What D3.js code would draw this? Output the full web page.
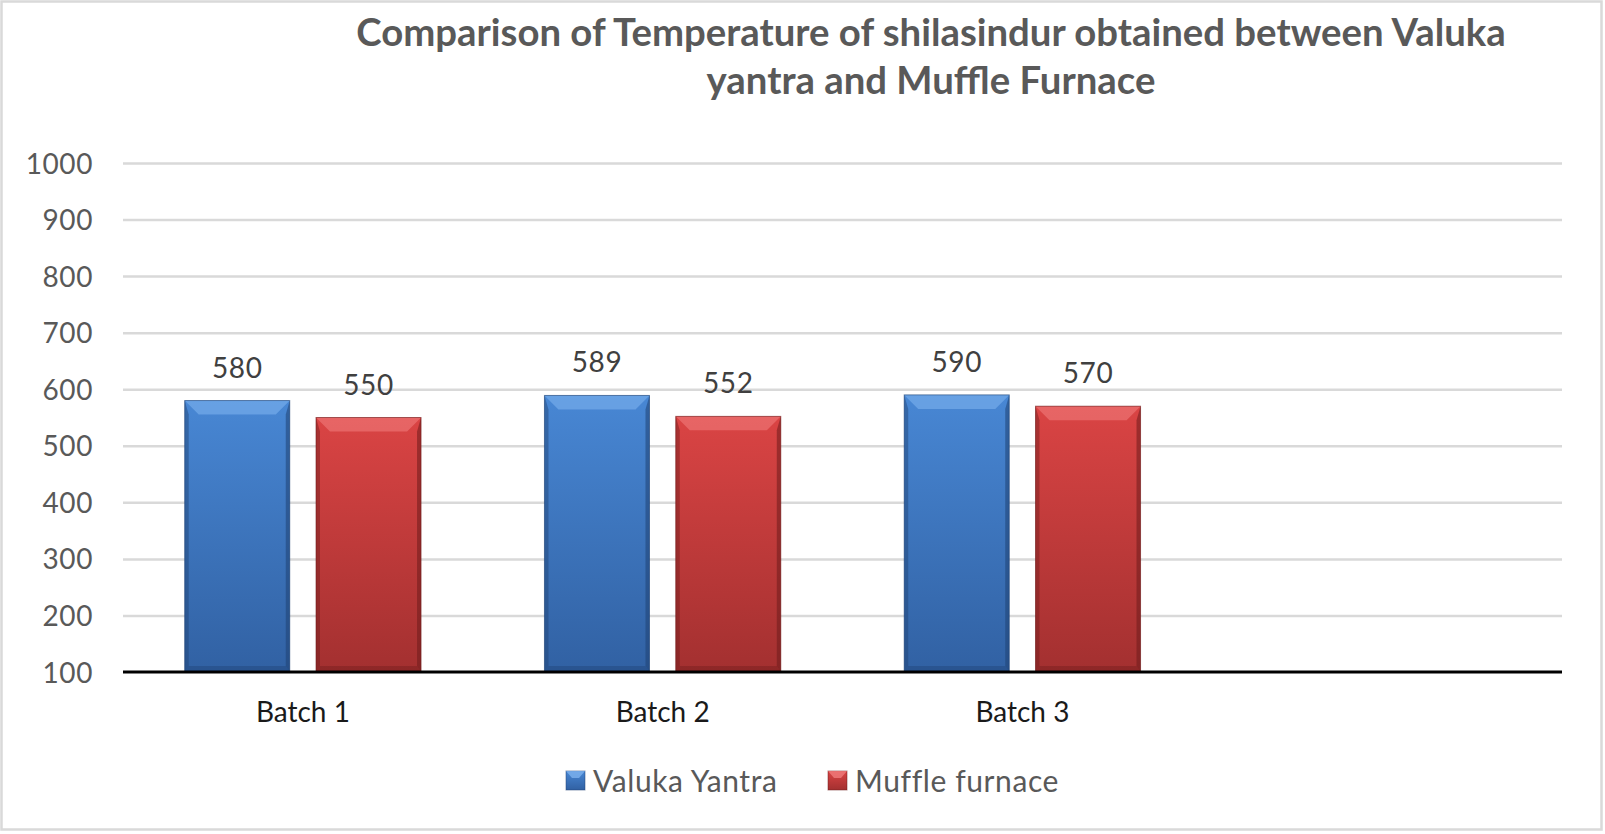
<!DOCTYPE html>
<html>
<head>
<meta charset="utf-8">
<script src="https://cdn.jsdelivr.net/npm/d3@7"></script>
<style>
  html, body { margin: 0; padding: 0; background: #fff; }
  svg { display: block; }
  text { font-family: Lato, "Open Sans", sans-serif; }
</style>
</head>
<body>
<svg id="chart" width="1605" height="834"></svg>
<script>
// chart data (last category is the empty slot left in the original sheet)
const categories = ["Batch 1", "Batch 2", "Batch 3", ""];
const seriesNames = ["Valuka Yantra", "Muffle furnace"];
const valukaYantra = [580, 589, 590, null];
const muffleFurnace = [550, 552, 570, null];
const yTicks = [100, 200, 300, 400, 500, 600, 700, 800, 900, 1000];
const titleLines = [
  "Comparison of Temperature of shilasindur obtained between Valuka",
  "yantra and Muffle Furnace"
];

const palette = {
  "Valuka Yantra": { top: "#4887d4", bottom: "#3161a3", light: "#7db2ee", dark: "#1f4273" },
  "Muffle furnace": { top: "#da4444", bottom: "#a33030", light: "#f07c7c", dark: "#6e1c1c" }
};

const svg = d3.select("#chart");
const W = 1605, H = 834;
const margin = { left: 123, right: 43, top: 163, bottom: 162 };
const plotBottom = H - margin.bottom;

// outer chart border
svg.append("rect")
  .attr("x", 1.5).attr("y", 1.5)
  .attr("width", 1600).attr("height", 828)
  .attr("fill", "#fff")
  .attr("stroke", "#d9d9d9")
  .attr("stroke-width", 2.5);

const x0 = d3.scaleBand()
  .domain(categories)
  .range([margin.left, W - margin.right]);

const x1 = d3.scaleBand()
  .domain(seriesNames)
  .range([0, x0.bandwidth()])
  .paddingInner(0.2)
  .paddingOuter(0.47);

const y = d3.scaleLinear()
  .domain([100, 1000])
  .range([plotBottom, margin.top]);

// gridlines
svg.append("g")
  .attr("class", "grid")
  .attr("transform", `translate(${margin.left},0)`)
  .call(d3.axisLeft(y).tickValues(yTicks.slice(1)).tickSize(-(W - margin.left - margin.right)).tickFormat(""))
  .call(g => g.select(".domain").remove())
  .call(g => g.selectAll("line").attr("stroke", "#d9d9d9").attr("stroke-width", 2.5));

// y labels
svg.append("g")
  .attr("transform", `translate(${margin.left},0)`)
  .call(d3.axisLeft(y).tickValues(yTicks).tickFormat(d3.format("d")).tickSize(0).tickPadding(30))
  .call(g => g.select(".domain").remove())
  .call(g => g.selectAll("text")
    .attr("fill", "#595959")
    .style("font-size", "28px")
    .style("letter-spacing", "0.6px")
    .attr("dy", "0.36em"));

// gradients
const defs = svg.append("defs");
seriesNames.forEach((s, i) => {
  const gr = defs.append("linearGradient")
    .attr("id", "grad" + i)
    .attr("x1", 0).attr("y1", 0).attr("x2", 0).attr("y2", 1);
  gr.append("stop").attr("offset", "0%").attr("stop-color", palette[s].top);
  gr.append("stop").attr("offset", "100%").attr("stop-color", palette[s].bottom);
});

const rows = [];
categories.forEach((c, i) => {
  [valukaYantra, muffleFurnace].forEach((arr, j) => {
    if (arr[i] != null) rows.push({ cat: c, series: seriesNames[j], idx: j, value: arr[i] });
  });
});

const bars = svg.append("g").selectAll("g.bar")
  .data(rows)
  .join("g")
  .attr("class", "bar");

const bev = 14, side = 4, foot = 6;

bars.each(function (d) {
  const g = d3.select(this);
  const bx = x0(d.cat) + x1(d.series);
  const bw = x1.bandwidth();
  const by = y(d.value);
  const bh = plotBottom - by;
  const col = palette[d.series];

  g.append("rect")
    .attr("x", bx).attr("y", by)
    .attr("width", bw).attr("height", bh)
    .attr("fill", `url(#grad${d.idx})`);

  // bevel: top highlight
  g.append("path")
    .attr("d", `M${bx},${by}L${bx + bw},${by}L${bx + bw - bev},${by + bev}L${bx + bev},${by + bev}Z`)
    .attr("fill", col.light).attr("opacity", 0.6);
  // side shading
  g.append("path")
    .attr("d", `M${bx},${by}L${bx + side},${by + bev}L${bx + side},${by + bh - foot}L${bx},${by + bh}Z`)
    .attr("fill", col.dark).attr("opacity", 0.45);
  g.append("path")
    .attr("d", `M${bx + bw},${by}L${bx + bw - side},${by + bev}L${bx + bw - side},${by + bh - foot}L${bx + bw},${by + bh}Z`)
    .attr("fill", col.dark).attr("opacity", 0.55);
  // bottom shading
  g.append("path")
    .attr("d", `M${bx},${by + bh}L${bx + side},${by + bh - foot}L${bx + bw - side},${by + bh - foot}L${bx + bw},${by + bh}Z`)
    .attr("fill", col.dark).attr("opacity", 0.4);
  g.append("rect")
    .attr("x", bx).attr("y", by)
    .attr("width", bw).attr("height", bh)
    .attr("fill", "none")
    .attr("stroke", col.dark).attr("stroke-opacity", 0.6).attr("stroke-width", 1);

  g.append("text")
    .attr("x", bx + bw / 2)
    .attr("y", by - 23)
    .attr("text-anchor", "middle")
    .attr("fill", "#404040")
    .style("font-size", "28px")
    .style("letter-spacing", "0.6px")
    .text(d.value);
});

// baseline
svg.append("line")
  .attr("x1", margin.left).attr("x2", W - margin.right)
  .attr("y1", plotBottom).attr("y2", plotBottom)
  .attr("stroke", "#000").attr("stroke-width", 3);

// category labels
svg.append("g")
  .attr("transform", `translate(0,${plotBottom})`)
  .call(d3.axisBottom(x0).tickSize(0).tickPadding(0))
  .call(g => g.select(".domain").remove())
  .call(g => g.selectAll("text")
    .attr("fill", "#1a1a1a")
    .attr("dy", 0)
    .attr("y", 50)
    .style("font-size", "28px"));

// title
const title = svg.append("g");
titleLines.forEach((t, i) => {
  title.append("text")
    .attr("x", 931)
    .attr("y", 46 + i * 48)
    .attr("text-anchor", "middle")
    .attr("fill", "#595959")
    .style("font-weight", "bold")
    .style("font-size", "33px")
    .text(t);
});
// fit line 1 to the reference width
const t0 = title.select("text").node();
const w0 = t0.getComputedTextLength();
const fs = 33 * 1150 / w0;
title.selectAll("text").style("font-size", fs + "px");

// legend
const legendX = [566, 828];
const legend = svg.append("g").selectAll("g")
  .data(seriesNames)
  .join("g")
  .attr("transform", (d, i) => `translate(${legendX[i]},771)`);

legend.append("rect")
  .attr("width", 19).attr("height", 19)
  .attr("fill", (d, i) => `url(#grad${i})`)
  .attr("stroke", d => palette[d].dark).attr("stroke-opacity", 0.5);
legend.append("path")
  .attr("d", "M0,0L19,0L13,7L6,7Z")
  .attr("fill", d => palette[d].light).attr("opacity", 0.8);
legend.append("text")
  .attr("x", 27)
  .attr("y", 10)
  .attr("dy", "0.36em")
  .attr("fill", "#595959")
  .style("font-size", "30px")
  .style("letter-spacing", "0.6px")
  .text(d => d);
</script>
</body>
</html>
